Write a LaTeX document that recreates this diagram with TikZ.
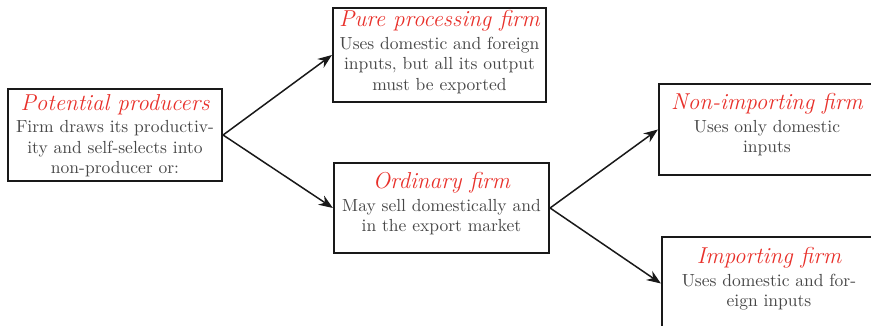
\documentclass[tikz,border=0pt]{standalone}
\usetikzlibrary{arrows.meta}
\definecolor{ttl}{HTML}{E8302A}
\definecolor{bdy}{HTML}{474747}
\tikzset{
  firmbox/.style={draw=black!90, line width=1.3pt, rectangle, inner sep=0pt},
  firmtext/.style={anchor=north, align=center, inner sep=0pt, text=bdy, font=\fontsize{10.5}{12.3}\selectfont},
  flow/.style={draw=black!90, line width=0.9pt, -{Stealth[length=8.5pt,width=6.5pt]}}
}
\newcommand{\ttlfmt}[1]{{\fontsize{13.8}{16}\selectfont\itshape\color{ttl}#1}}
\begin{document}
\begin{tikzpicture}[x=0.6pt,y=-0.6pt]
\useasboundingbox (0,0) rectangle (871,326);
\clip (0,0) rectangle (871,326);
\node[firmbox, minimum width=128.4pt, minimum height=55.2pt] (pp) at (115,135) {};
\node[firmbox, minimum width=127.8pt, minimum height=56.4pt] (pure) at (439.5,55) {};
\node[firmbox, minimum width=129pt, minimum height=54pt] (ord) at (441.5,208) {};
\node[firmbox, minimum width=129.6pt, minimum height=54.6pt] (non) at (767,129.5) {};
\node[firmbox, minimum width=128.4pt, minimum height=55.8pt] (imp) at (769,283.5) {};

\node[firmtext] (ppt) at ([yshift=-3.6pt]pp.north) {\ttlfmt{Potential producers}\\[1.2pt] Firm draws its productiv-\\ ity and self-selects into\\ non-producer or:};
\node[firmtext] (puret) at ([yshift=-2pt]pure.north) {\ttlfmt{Pure processing firm}\\[1.2pt] Uses domestic and foreign\\ inputs, but all its output\\ must be exported};
\node[firmtext] (ordt) at ([yshift=-6.2pt]ord.north) {\ttlfmt{Ordinary firm}\\[1.2pt] May sell domestically and\\ in the export market};
\node[firmtext] (nont) at ([yshift=-6.2pt]non.north) {\ttlfmt{Non-importing firm}\\[1.2pt] Uses only domestic\\ inputs};
\node[firmtext] (impt) at ([yshift=-6.8pt]imp.north) {\ttlfmt{Importing firm}\\[1.2pt] Uses domestic and for-\\ eign inputs};

\draw[flow] (pp.east) -- (pure.west);
\draw[flow] (pp.east) -- (ord.west);
\draw[flow] (ord.east) -- (non.west);
\draw[flow] (ord.east) -- (imp.west);
\end{tikzpicture}
\end{document}
